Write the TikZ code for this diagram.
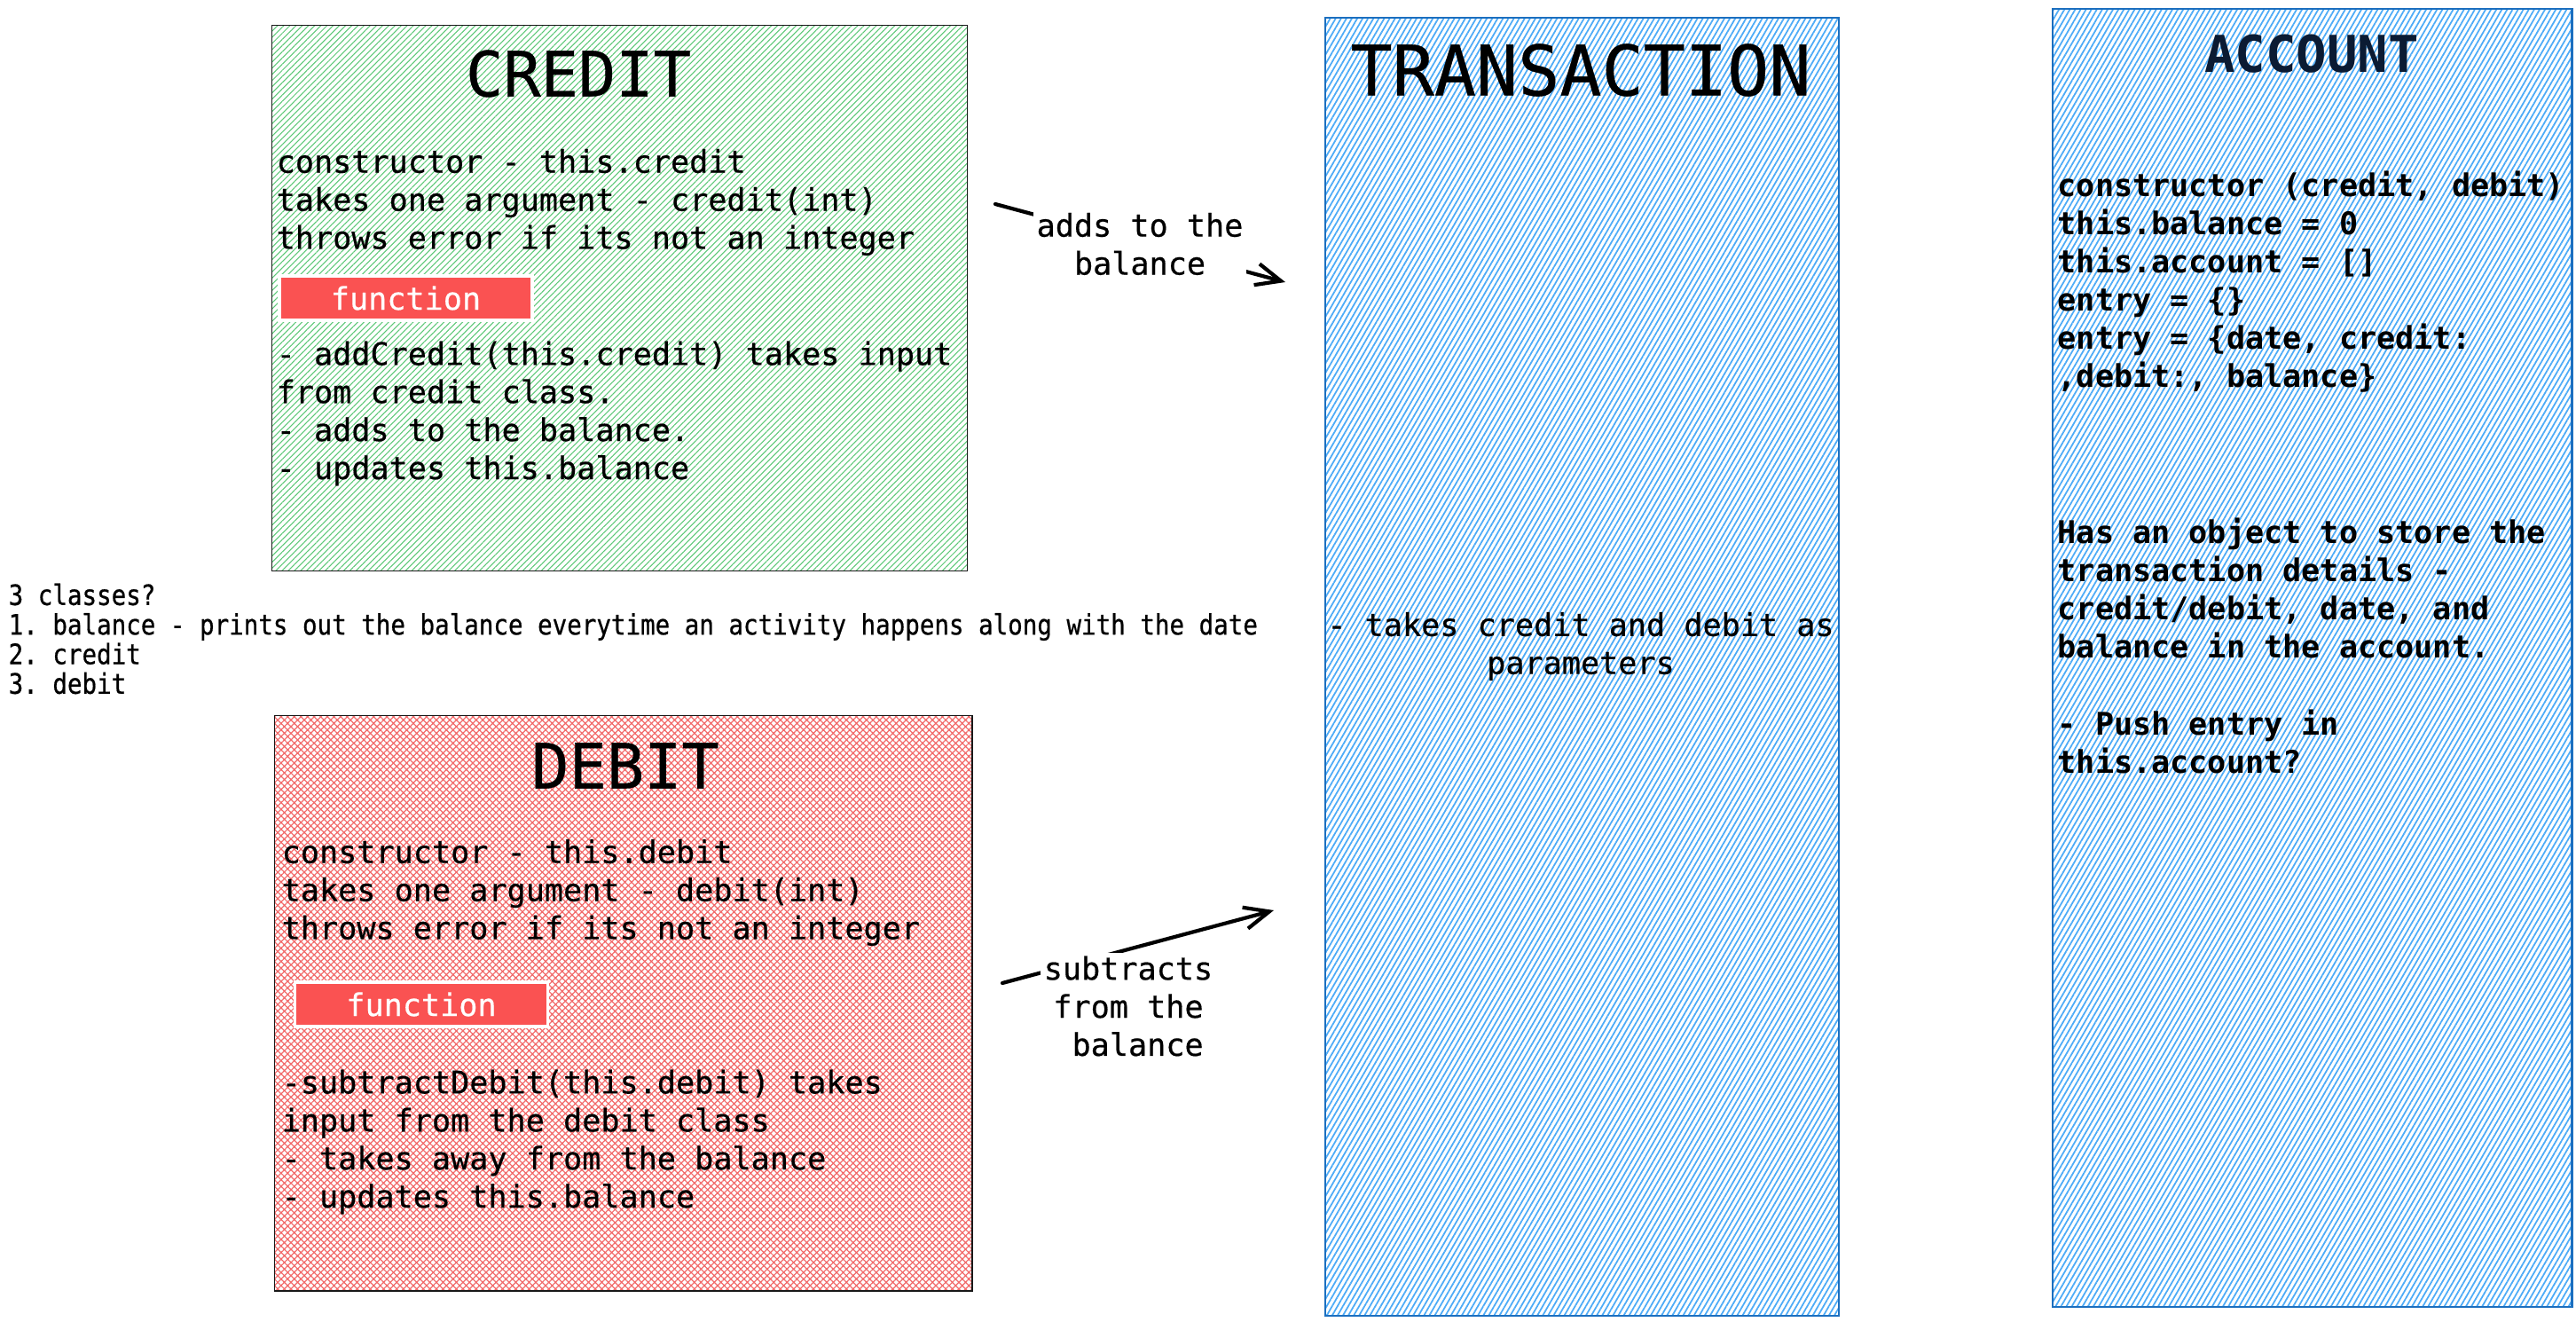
\documentclass[tikz,border=0pt]{standalone}
\usepackage{xcolor}
\usepackage{fontspec}
\setmainfont{DejaVu Sans Mono}[UprightFeatures={FakeBold=0.5}]
\newfontfamily\notefont[FakeStretch=0.87,FakeBold=0.6]{DejaVu Sans Mono}
\usetikzlibrary{arrows.meta,patterns.meta,positioning}
\definecolor{hatchgreen}{HTML}{5CC877}
\definecolor{hatchred}{HTML}{F26A6A}
\definecolor{hatchblue}{HTML}{4DABF7}
\definecolor{edgeblue}{HTML}{1C6FBF}
\definecolor{fnred}{HTML}{FA5252}
\definecolor{navy}{HTML}{0B1B33}

\begin{document}
\frenchspacing
\begin{tikzpicture}[
        classbox/.style={draw=black!90, line width=0.5pt, anchor=north west, inner sep=0pt},
        bluebox/.style={classbox, draw=edgeblue, line width=0.7pt, pattern={Lines[angle=60,distance=1.5pt,line width=0.5pt]}, pattern color=hatchblue},
        boxtitle/.style={inner sep=0pt},
        body/.style={font=\fontsize{10}{12.2}\selectfont, align=left, anchor=west, inner sep=0pt},
        fnbox/.style={fill=fnred, draw=white, line width=1pt, text=white, minimum width=2.85cm, minimum height=0.5cm, inner sep=0pt, font=\fontsize{10}{12}\selectfont},
        flow/.style={-{Straight Barb[length=8pt,width=7pt]}, line width=1.2pt, line cap=round},
        flowlabel/.style={fill=white, align=center, inner sep=1pt, font=\fontsize{10}{12.2}\selectfont}
    ]
        \fill[white] (0,0) rectangle (29.04,-14.90);
        \node[classbox, minimum width=7.84cm, minimum height=6.15cm, pattern={Lines[angle=45,distance=1.4pt,line width=0.3pt]}, pattern color=hatchgreen] (credit) at (3.06,-0.28) {};
        \node[classbox, minimum width=7.86cm, minimum height=6.48cm, pattern={Hatch[angle=45,distance=1.5pt,line width=0.35pt]}, pattern color=hatchred] (debit) at (3.09,-8.06) {};
        \node[bluebox, minimum width=5.79cm, minimum height=14.63cm] (transaction) at (14.93,-0.19) {};
        \node[bluebox, minimum width=5.85cm, minimum height=14.63cm] (account) at (23.13,-0.09) {};

        \node[boxtitle, font=\fontsize{20}{24}\selectfont] (credittitle) at (6.52,-0.83) {CREDIT};
        \node[body] (creditctor) at (3.11,-2.28) {constructor - this.credit\\takes one argument - credit(int)\\throws error if its not an integer};
        \node[fnbox] (creditfn) at (4.575,-3.36) {function};
        \node[body] (creditadd) at (3.11,-4.66) {- addCredit(this.credit) takes input\\from credit class.\\- adds to the balance.\\- updates this.balance};

        \node[boxtitle, font=\fontsize{20}{24}\selectfont] (debittitle) at (7.05,-8.63) {DEBIT};
        \node[body] (debitctor) at (3.17,-10.06) {constructor - this.debit\\takes one argument - debit(int)\\throws error if its not an integer};
        \node[fnbox] (debitfn) at (4.75,-11.32) {function};
        \node[body] (debitsub) at (3.17,-12.87) {-subtractDebit(this.debit) takes\\input from the debit class\\- takes away from the balance\\- updates this.balance};

        \node[body, font=\notefont\fontsize{9}{9.48}\selectfont] (classnote) at (0.09,-7.20) {3 classes?\\1. balance - prints out the balance everytime an activity happens along with the date\\2. credit\\3. debit};

        \node[boxtitle, font=\fontsize{22.3}{26}\selectfont] (transtitle) at (17.82,-0.79) {TRANSACTION};
        \node[body, anchor=center, align=center] (transparams) at (17.82,-7.285) {- takes credit and debit as\\parameters};

        \node[boxtitle, text=navy, font=\bfseries\fontsize{16.3}{20}\selectfont] (accttitle) at (26.06,-0.61) {ACCOUNT};
        \node[body, font=\bfseries\fontsize{10}{12.2}\selectfont] (acctctor) at (23.19,-3.175) {constructor (credit, debit)\\this.balance = 0\\this.account = []\\entry = \{\}\\entry = \{date, credit:\\,debit:, balance\}};
        \node[body, font=\bfseries\fontsize{10}{12.2}\selectfont] (acctstore) at (23.19,-6.63) {Has an object to store the\\transaction details -\\credit/debit, date, and\\balance in the account.};
        \node[body, font=\bfseries\fontsize{10}{12.2}\selectfont] (acctpush) at (23.19,-8.36) {- Push entry in\\this.account?};

        \coordinate (addsfrom) at (11.22,-2.30);
        \coordinate (addsto) at (14.49,-3.18);
        \coordinate (subfrom) at (11.30,-11.08);
        \coordinate (subto) at (14.36,-10.26);
        \draw[flow] (addsfrom) -- (addsto);
        \draw[flow] (subfrom) -- (subto);
        \node[flowlabel] (addslabel) at (12.85,-2.75) {adds to the\\balance};
        \node[flowlabel] (sublabel) at (12.72,-11.34) {subtracts\\from the\\~balance};
    \end{tikzpicture}
\end{document}
